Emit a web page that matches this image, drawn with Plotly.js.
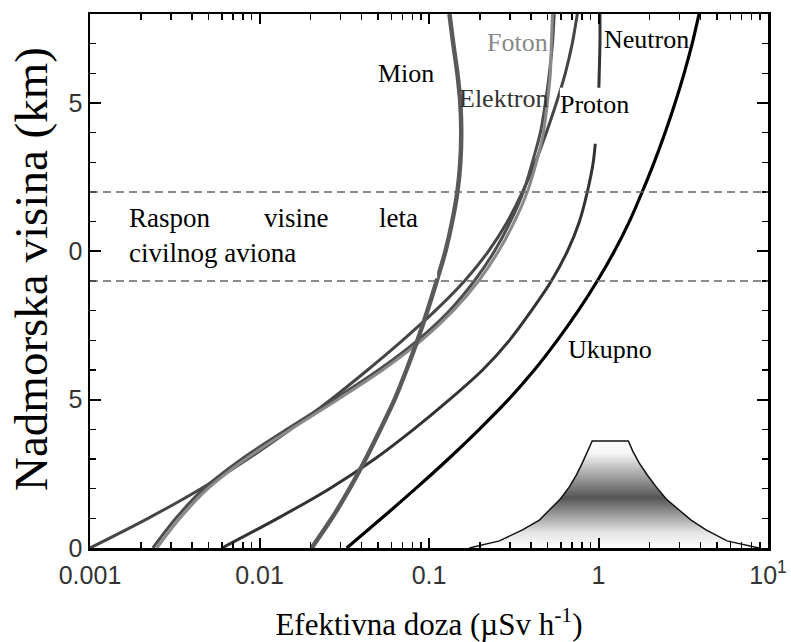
<!DOCTYPE html>
<html><head><meta charset="utf-8">
<script src="https://cdn.plot.ly/plotly-3.0.1.min.js"></script>
<style>html,body{margin:0;padding:0;background:#fff;}#chart{width:791px;height:642px;}</style>
</head><body><div id="chart"></div>
<script>
// altitude (km)
const altitudeKm = [0,1,2,3,4,5,6,7,8,9,10,11,12,13,14,15,16,17,18];
// effective dose rates (µSv/h)
const ukupno   = [0.0327,0.0525,0.0833,0.130,0.198,0.294,0.418,0.571,0.760,0.983,1.24,1.52,1.81,2.13,2.47,2.83,3.20,3.57,3.92];
const neutron  = [0.0060,0.0128,0.0259,0.0478,0.0811,0.132,0.207,0.298,0.402,0.527,0.655,0.771,0.859,0.931,0.970,0.998,1.01,1.02,1.02];
const mion     = [0.0203,0.0267,0.0340,0.0423,0.0517,0.0626,0.0736,0.0855,0.0979,0.111,0.125,0.137,0.147,0.153,0.155,0.153,0.147,0.139,0.132];
const proton   = [0.00100,0.00220,0.00451,0.00853,0.0153,0.0263,0.0434,0.0698,0.109,0.162,0.224,0.290,0.356,0.424,0.492,0.564,0.637,0.700,0.750];
const foton    = [0.00248,0.00339,0.00496,0.00830,0.0153,0.0289,0.0532,0.0903,0.139,0.196,0.257,0.319,0.380,0.430,0.473,0.499,0.520,0.527,0.535];
const elektron = [0.00235,0.00321,0.00469,0.00786,0.0145,0.0274,0.0504,0.0856,0.132,0.185,0.243,0.302,0.360,0.407,0.454,0.486,0.513,0.535,0.548];
// flight-altitude distribution outline
const distDose = [0.173,0.260,0.356,0.448,0.513,0.595,0.673,0.740,0.802,0.858,0.918,1.50,1.60,1.74,1.94,2.19,2.51,2.99,3.52,4.31,5.73,8.85];
const distAlt  = [0,0.24,0.61,0.94,1.28,1.65,2.06,2.46,2.86,3.24,3.61,3.61,3.24,2.86,2.46,2.06,1.65,1.28,0.94,0.61,0.24,0];
// civil flight altitude band (km)
const flightBand = [9, 12];
// axis ticks
const xTickVals = [0.001,0.01,0.1,1,10];
const xTickText = ['0.001','0.01','0.1','1','10<sup>1</sup>'];
const yTickVals = [0,5,10,15];
const yTickText = ['0','5','0','5'];

const xMinor = [];
xTickVals.slice(0,-1).forEach(d => { for (let k=2;k<=9;k++) xMinor.push(k*d); });

function curve(x, color, width){
  return {x:x, y:altitudeKm, mode:'lines', line:{color:color, width:width, shape:'spline', smoothing:0.8}, hoverinfo:'skip'};
}
const traces = [
  {x:distDose, y:distAlt, mode:'lines', fill:'toself',
   fillgradient:{type:'vertical', colorscale:[[0,'#ffffff'],[0.15,'#e2e2e2'],[0.47,'#555555'],[0.72,'#b5b5b5'],[0.88,'#f4f4f4'],[1,'#ffffff']]},
   line:{color:'#111', width:1.5}, hoverinfo:'skip'},
  curve(proton,'#454545',3),
  curve(elektron,'#4d4d4d',3),
  curve(foton,'#8a8a8a',3),
  curve(neutron,'#333333',3),
  curve(mion,'#5a5a5a',4.5),
  curve(ukupno,'#000000',3.2)
];

const SERIF = 'Liberation Serif';
function lab(text, x, y, color, size, extra){
  return Object.assign({text:text, x:x, y:y, xref:'paper', yref:'paper', showarrow:false,
    xanchor:'center', yanchor:'middle', font:{family:SERIF, size:size, color:color}}, extra||{});
}
const annotations = [
  lab('Foton', 0.630, 0.946, '#888888', 26),
  lab('Neutron', 0.8215, 0.953, '#000000', 26),
  lab('Mion', 0.466, 0.888, '#000000', 26),
  lab('Elektron', 0.6106, 0.841, '#333333', 26),
  lab('Proton', 0.7448, 0.830, '#000000', 26),
  lab('Ukupno', 0.767, 0.371, '#000000', 26),
  lab('Raspon', 0.0546, 0.618, '#000000', 27, {xanchor:'left'}),
  lab('visine', 0.2537, 0.618, '#000000', 27, {xanchor:'left'}),
  lab('leta', 0.4233, 0.618, '#000000', 27, {xanchor:'left'}),
  lab('civilnog aviona', 0.0546, 0.5524, '#000000', 27, {xanchor:'left'}),
  lab('Nadmorska visina (km)', -0.086, 0.522, '#000000', 47, {textangle:-90, borderpad:0})
];

const shapes = flightBand.map(h => ({type:'line', xref:'paper', yref:'y', x0:0, x1:1, y0:h, y1:h,
  line:{color:'#666', width:1.5, dash:'8px,5px'}}));
shapes.push({type:'rect', xref:'paper', yref:'paper', x0:0.025, x1:0.512, y0:0.505, y1:0.660,
  fillcolor:'#fff', line:{width:0}, layer:'above'});
shapes.push({type:'rect', xref:'paper', yref:'paper', x0:0.693, x1:0.770, y0:0.757, y1:0.862,
  fillcolor:'#fff', line:{width:0}, layer:'above'});

const axisCommon = {showline:true, linewidth:2.5, linecolor:'#000', mirror:'ticks', ticks:'inside',
  tickcolor:'#000', tickwidth:2, showgrid:false, zeroline:false,
  tickfont:{family:'Liberation Sans', size:25, color:'#333'}};

const layout = {
  width:791, height:642, margin:{l:90, r:23, t:14, b:94},
  paper_bgcolor:'#fff', plot_bgcolor:'#fff', showlegend:false,
  xaxis:Object.assign({}, axisCommon, {type:'log', range:[-3,1], tickmode:'array', tickvals:xTickVals, ticktext:xTickText,
    ticklen:10, ticklabelstandoff:3,
    minor:{tickmode:'array', tickvals:xMinor, ticks:'inside', ticklen:6, tickwidth:1.5, tickcolor:'#000', showgrid:false},
    title:{text:'Efektivna doza (µSv h<sup>-1</sup>)', font:{family:SERIF, size:31, color:'#000'}, standoff:27}}),
  yaxis:Object.assign({}, axisCommon, {range:[0,18], tickmode:'array', tickvals:yTickVals, ticktext:yTickText,
    ticklen:11,
    minor:{tickmode:'linear', tick0:0, dtick:1, ticks:'inside', ticklen:6, tickwidth:1.5, tickcolor:'#000', showgrid:false}}),
  annotations:annotations, shapes:shapes
};
Plotly.newPlot('chart', traces, layout, {staticPlot:true, displayModeBar:false});
</script></body></html>
